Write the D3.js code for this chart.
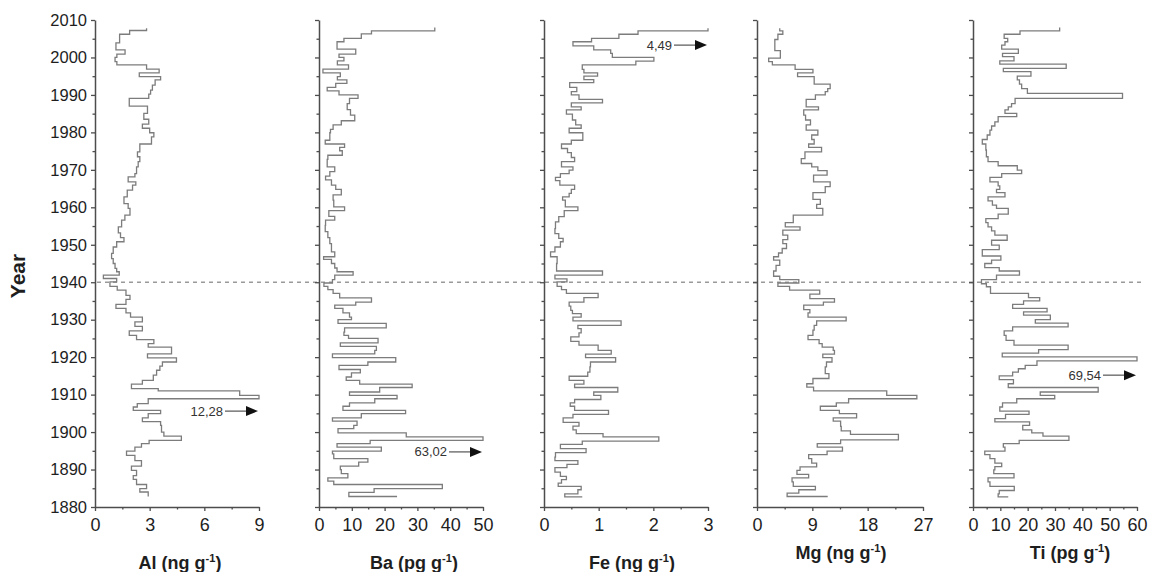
<!DOCTYPE html>
<html>
<head>
<meta charset="utf-8">
<script src="https://cdn.jsdelivr.net/npm/d3@7"></script>
<style>
  body { margin: 0; background: #fff; }
  text { font-family: Arial, 'Liberation Sans', sans-serif; }
</style>
</head>
<body>
<div id="chart"></div>
<script>
// Year ticks shared by all panels
const yearTicks = [1880, 1890, 1900, 1910, 1920, 1930, 1940, 1950, 1960, 1970, 1980, 1990, 2000, 2010];
const yearMinor = [1885, 1895, 1905, 1915, 1925, 1935, 1945, 1955, 1965, 1975, 1985, 1995, 2005];

// Al (ng g-1): step boundaries (top -> bottom) and values
const alYears = [
  2007.8, 2007.2, 2006.2, 2003.9, 2002.0, 2000.9, 2000.0, 1998.9, 1998.0, 1996.9,
  1995.9, 1994.9, 1994.0, 1992.6, 1991.3, 1990.2, 1989.1, 1987.0, 1985.1, 1983.5,
  1982.2, 1981.1, 1979.9, 1978.8, 1976.9, 1974.8, 1973.5, 1972.2, 1970.8, 1969.0,
  1968.1, 1966.8, 1965.9, 1964.6, 1962.8, 1961.0, 1959.7, 1957.9, 1956.6, 1954.8,
  1953.2, 1951.9, 1950.8, 1949.4, 1947.7, 1946.3, 1945.0, 1943.7, 1942.8, 1941.9,
  1941.0, 1940.1, 1938.9, 1937.9, 1936.5, 1935.4, 1934.1, 1933.0, 1931.8, 1930.7,
  1929.4, 1928.2, 1927.0, 1925.8, 1924.7, 1923.6, 1922.7, 1920.9, 1919.8, 1918.7,
  1917.6, 1916.5, 1915.2, 1913.8, 1912.8, 1911.6, 1911.0, 1909.8, 1908.9, 1907.6,
  1906.7, 1905.8, 1904.9, 1903.8, 1902.8, 1901.8, 1900.0, 1898.9, 1897.8, 1896.9,
  1896.0, 1894.9, 1893.8, 1892.4, 1890.9, 1889.8, 1888.4, 1887.4, 1886.0, 1884.9, 1884.0,
  1882.8];
const alValues = [
  2.83, 1.9, 1.35, 1.15, 1.65, 1.2, 1.1, 1.2, 2.83, 3.52,
  2.43, 3.6, 3.3, 3.15, 3.05, 2.95, 1.88, 2.88, 2.68, 2.95,
  2.6, 3.0, 3.23, 3.1, 2.46, 2.33, 2.46, 2.37, 2.28, 2.19,
  1.82, 2.24, 2.06, 1.77, 1.59, 1.82, 1.92, 1.64, 1.46, 1.28,
  1.4, 1.59, 1.19, 1.0, 0.91, 1.0, 1.1, 1.19, 1.33, 0.46,
  1.19, 0.82, 1.22, 1.7, 1.92, 1.7, 1.15, 1.7, 1.95, 2.6,
  2.19, 2.6, 1.88, 2.28, 3.23, 2.92, 4.2, 2.88, 4.47, 3.7,
  3.56, 3.38, 3.2, 2.6, 2.0, 3.47, 7.94, 12.28, 2.92, 2.32,
  2.1, 3.6, 2.92, 2.6, 3.6, 3.65, 3.78, 4.74, 2.97, 2.55,
  2.19, 1.73, 2.19, 2.55, 2.0, 2.28, 2.1, 2.28, 2.83, 2.46, 2.92];

// Ba (pg g-1)
const baYears = [
  2008.0, 2007.1, 2006.3, 2005.1, 2004.2, 2002.2, 2000.9, 2000.0, 1999.1, 1998.0,
  1996.9, 1995.9, 1994.9, 1994.0, 1993.1, 1992.0, 1991.1, 1990.0, 1989.1, 1987.7,
  1986.1, 1984.6, 1983.1, 1982.0, 1980.8, 1979.9, 1977.9, 1976.9, 1976.0, 1975.1,
  1973.9, 1972.8, 1970.8, 1969.5, 1968.3, 1967.3, 1965.9, 1964.8, 1963.3, 1961.9,
  1960.1, 1959.1, 1957.6, 1956.6, 1955.2, 1953.5, 1951.9, 1950.3, 1948.1, 1946.8,
  1946.1, 1945.0, 1943.8, 1942.8, 1941.9, 1940.7, 1939.8, 1938.9, 1938.0, 1937.0,
  1935.8, 1934.7, 1933.9, 1933.0, 1931.8, 1930.7, 1930.0, 1929.0, 1927.8, 1926.7,
  1925.8, 1925.0, 1923.8, 1922.9, 1921.8, 1920.9, 1919.9, 1918.7, 1917.8, 1916.7,
  1915.8, 1914.7, 1913.8, 1912.8, 1911.9, 1910.7, 1909.8, 1908.9, 1907.8, 1906.9,
  1905.8, 1904.9, 1903.8, 1902.9, 1901.8, 1900.9, 1899.8, 1898.7, 1897.8, 1896.9,
  1896.0, 1894.9, 1894.2, 1892.9, 1892.0, 1890.9, 1890.0, 1888.9, 1887.8, 1886.9,
  1886.0, 1884.9, 1883.9, 1882.8,
  1882.8];
const baValues = [
  35.3, 16.0, 12.9, 7.6, 5.5, 11.2, 6.1, 7.6, 5.6, 9.0,
  1.2, 6.5, 5.6, 8.5, 5.1, 2.5, 6.1, 11.9, 9.3, 8.6,
  9.6, 10.9, 6.8, 4.3, 3.5, 3.3, 1.9, 7.8, 6.3, 7.1,
  2.7, 2.5, 4.8, 3.3, 2.0, 3.8, 5.1, 6.8, 4.3, 4.5,
  7.8, 3.0, 4.8, 2.0, 1.9, 2.7, 3.3, 3.8, 4.8, 1.4,
  3.8, 4.8, 5.5, 10.4, 4.8, 4.1, 1.5, 2.7, 4.3, 6.3,
  16.0, 11.2, 4.8, 7.3, 9.3, 9.9, 5.8, 20.5, 7.8, 7.6,
  9.0, 18.0, 6.5, 17.5, 17.0, 4.1, 23.4, 14.9, 6.1, 12.6,
  9.9, 8.3, 12.4, 28.4, 18.5, 9.3, 23.8, 17.0, 9.3, 7.3,
  26.4, 12.9, 4.1, 11.6, 10.6, 5.8, 26.6, 63.02, 15.6, 5.5,
  19.0, 4.1, 4.5, 14.9, 12.1, 6.5, 6.8, 8.8, 2.7, 4.5,
  37.6, 16.8, 9.1, 23.8];

// Fe (ng g-1)
const feYears = [
  2007.8, 2007.1, 2006.2, 2005.1, 2004.2, 2003.1, 2002.0, 2001.1, 2000.0, 1999.0,
  1998.0, 1996.8, 1995.9, 1995.0, 1994.1, 1993.3, 1992.0, 1990.9, 1990.0, 1988.8,
  1987.9, 1986.8, 1986.0, 1984.9, 1983.3, 1982.0, 1981.1, 1979.9, 1977.9, 1976.9,
  1975.7, 1974.6, 1973.3, 1972.2, 1970.8, 1969.9, 1969.0, 1968.0, 1967.1, 1965.9,
  1964.8, 1963.7, 1962.8, 1961.9, 1960.1, 1959.1, 1957.5, 1956.1, 1954.3, 1953.0,
  1951.7, 1950.8, 1949.4, 1948.1, 1946.8, 1945.0, 1943.0, 1941.9, 1940.9, 1940.1,
  1938.9, 1938.0, 1937.0, 1935.9, 1934.7, 1933.6, 1932.5, 1931.6, 1930.7, 1929.7,
  1928.5, 1927.6, 1926.5, 1925.4, 1924.2, 1923.2, 1921.8, 1920.8, 1919.9, 1918.7,
  1917.4, 1916.0, 1914.9, 1913.8, 1912.8, 1911.9, 1910.7, 1909.8, 1908.7, 1907.8,
  1906.9, 1905.8, 1904.7, 1903.8, 1902.6, 1901.6, 1900.6, 1899.6, 1898.7, 1897.6,
  1896.7, 1895.6, 1894.5, 1893.3, 1892.4, 1891.4, 1890.5, 1889.3, 1888.2, 1887.3,
  1886.4, 1885.5, 1884.6, 1883.5, 1882.7,
  1882.7];
const feValues = [
  4.49, 1.72, 1.37, 0.87, 0.53, 0.91, 1.22, 1.25, 2.01, 1.68,
  0.70, 0.73, 0.98, 0.73, 0.91, 0.47, 0.60, 0.50, 0.64, 1.07,
  0.50, 0.68, 0.41, 0.52, 0.58, 0.68, 0.46, 0.71, 0.50, 0.32,
  0.43, 0.50, 0.56, 0.32, 0.53, 0.46, 0.30, 0.21, 0.29, 0.56,
  0.50, 0.46, 0.34, 0.39, 0.62, 0.37, 0.27, 0.21, 0.20, 0.27,
  0.35, 0.30, 0.20, 0.12, 0.24, 0.23, 1.07, 0.20, 0.42, 0.24,
  0.32, 0.41, 0.99, 0.73, 0.46, 0.49, 0.52, 0.68, 0.53, 1.41,
  0.62, 0.68, 0.64, 0.49, 0.64, 0.99, 1.23, 0.76, 1.31, 0.85,
  0.84, 0.80, 0.46, 0.73, 0.56, 1.35, 0.91, 1.04, 0.56, 0.48,
  0.56, 1.18, 0.53, 0.35, 0.64, 0.53, 0.59, 1.08, 2.10, 0.70,
  0.30, 0.77, 0.21, 0.20, 0.62, 0.42, 0.20, 0.30, 0.41, 0.32,
  0.26, 0.68, 0.62, 0.38, 0.70];

// Mg (ng g-1)
const mgYears = [
  2007.8, 2007.1, 2006.2, 2004.8, 2001.8, 1999.8, 1998.9, 1998.0, 1996.8, 1995.9,
  1994.9, 1992.9, 1991.7, 1990.9, 1990.0, 1988.8, 1986.8, 1986.0, 1984.6, 1983.3,
  1982.0, 1980.6, 1979.3, 1978.1, 1976.9, 1976.0, 1974.8, 1973.0, 1971.7, 1970.8,
  1969.8, 1968.6, 1966.8, 1965.5, 1963.9, 1962.1, 1960.8, 1959.7, 1957.9, 1955.9,
  1954.8, 1953.9, 1952.6, 1951.4, 1950.3, 1949.0, 1947.8, 1946.8, 1945.9, 1944.5,
  1943.0, 1941.6, 1940.7, 1939.8, 1938.9, 1937.9, 1936.8, 1935.6, 1934.7, 1933.9,
  1932.7, 1931.8, 1930.7, 1929.7, 1928.5, 1927.2, 1925.8, 1924.7, 1923.6, 1922.7,
  1921.8, 1920.8, 1919.9, 1918.7, 1917.4, 1915.6, 1914.3, 1912.9, 1912.0, 1911.0,
  1909.8, 1908.9, 1907.8, 1906.9, 1905.8, 1904.9, 1903.8, 1902.9, 1901.5, 1900.3,
  1899.4, 1897.9, 1896.9, 1896.0, 1894.9, 1894.0, 1892.9, 1891.7, 1890.7, 1889.8,
  1888.7, 1887.8, 1886.7, 1885.5, 1884.6, 1883.7, 1882.8,
  1882.8];
const mgValues = [
  3.7, 4.2, 3.4, 2.9, 3.8, 1.9, 2.5, 6.2, 9.1, 6.6,
  9.3, 11.9, 11.5, 11.1, 9.5, 8.0, 10.0, 7.6, 7.9, 8.7,
  8.0, 9.9, 8.9, 9.3, 8.4, 10.5, 7.8, 7.2, 8.9, 9.9,
  11.4, 9.2, 11.9, 11.1, 9.1, 10.3, 9.7, 10.7, 5.9, 4.6,
  7.0, 4.2, 5.0, 4.2, 4.8, 4.1, 3.5, 2.7, 3.7, 3.1,
  2.7, 3.7, 6.8, 3.4, 5.3, 10.2, 8.6, 12.6, 10.8, 7.6,
  8.6, 8.3, 14.5, 9.7, 9.3, 9.1, 8.3, 10.1, 10.6, 12.4,
  12.6, 10.7, 12.2, 11.3, 11.1, 11.7, 9.1, 8.1, 9.2, 21.1,
  26.0, 14.9, 12.9, 10.3, 13.4, 16.2, 12.4, 13.6, 13.7, 15.2,
  23.0, 13.6, 9.8, 13.9, 11.4, 8.4, 8.9, 9.7, 7.0, 6.5,
  8.4, 5.7, 5.9, 9.5, 6.8, 4.9, 11.5];

// Ti (pg g-1)
const tiYears = [
  2008.0, 2007.1, 2006.2, 2005.1, 2004.2, 2003.3, 2002.2, 2001.1, 2000.2, 1999.1,
  1998.2, 1997.1, 1996.2, 1995.0, 1994.0, 1992.9, 1991.7, 1990.4, 1989.1, 1987.7,
  1986.8, 1986.0, 1985.1, 1984.2, 1982.8, 1981.7, 1980.6, 1979.3, 1978.1, 1976.9,
  1975.3, 1973.5, 1972.2, 1971.1, 1969.9, 1969.0, 1968.0, 1966.8, 1965.7, 1964.8,
  1963.9, 1962.8, 1961.7, 1960.6, 1959.7, 1958.2, 1957.0, 1955.9, 1954.8, 1953.7,
  1952.6, 1951.2, 1949.9, 1948.7, 1947.0, 1945.9, 1945.0, 1943.9, 1943.0, 1941.9,
  1940.7, 1939.6, 1938.8, 1937.0, 1935.9, 1935.0, 1934.1, 1933.0, 1932.1, 1931.2,
  1930.0, 1929.1, 1928.1, 1927.0, 1925.8, 1924.5, 1923.2, 1922.0, 1921.1, 1920.1,
  1919.0, 1917.8, 1916.9, 1916.0, 1915.0, 1914.0, 1912.9, 1911.9, 1910.7, 1909.8,
  1908.9, 1907.8, 1906.7, 1905.6, 1904.7, 1903.6, 1902.7, 1901.8, 1900.6, 1899.8,
  1898.9, 1897.8, 1896.9, 1896.0, 1894.9, 1894.0, 1892.9, 1891.7, 1890.8, 1889.9,
  1888.9, 1887.8, 1886.7, 1885.5, 1884.4, 1883.5, 1882.7,
  1882.7];
const tiValues = [
  31.7, 17.2, 11.4, 12.7, 11.7, 10.5, 16.6, 10.8, 15.0, 9.8,
  34.1, 11.1, 21.2, 16.2, 17.0, 17.8, 19.9, 54.7, 15.4, 14.1,
  12.9, 11.7, 16.0, 9.2, 8.0, 6.8, 6.2, 5.2, 3.4, 4.7,
  4.9, 5.5, 9.2, 16.2, 17.8, 10.5, 6.2, 9.2, 9.8, 8.6,
  11.7, 5.5, 7.1, 8.6, 12.9, 9.2, 4.7, 5.5, 6.8, 8.0,
  12.5, 6.8, 9.6, 3.4, 10.2, 6.8, 4.3, 9.6, 17.0, 8.6,
  3.1, 4.9, 6.4, 20.3, 24.4, 18.5, 14.5, 27.1, 18.5, 28.3,
  22.8, 34.8, 14.5, 11.4, 12.1, 15.0, 34.8, 24.0, 10.7, 69.54,
  23.4, 19.1, 16.6, 14.5, 9.6, 14.8, 12.9, 45.8, 24.6, 29.9,
  16.0, 10.8, 9.8, 20.5, 11.9, 8.0, 20.7, 18.2, 21.5, 25.6,
  35.1, 16.9, 11.1, 11.7, 4.3, 6.2, 8.0, 10.5, 8.0, 7.6,
  15.0, 5.5, 6.2, 15.1, 9.6, 9.2, 12.9];

// x axis ticks per element
const alTicks = [0, 3, 6, 9];
const baTicks = [0, 10, 20, 30, 40, 50];
const feTicks = [0, 1, 2, 3];
const mgTicks = [0, 9, 18, 27];
const tiTicks = [0, 10, 20, 30, 40, 50, 60];

// off-scale values written next to an arrow
const offscaleLabels = ['12,28', '63,02', '4,49', null, '69,54'];
const offscaleYears = [1905.6, 1894.7, 2003.3, null, 1915.2];

const panels = [
  { el: 'Al', unit: 'ng', years: alYears, values: alValues, ticks: alTicks, minor: 1.5 },
  { el: 'Ba', unit: 'pg', years: baYears, values: baValues, ticks: baTicks, minor: 5 },
  { el: 'Fe', unit: 'ng', years: feYears, values: feValues, ticks: feTicks, minor: 0.5 },
  { el: 'Mg', unit: 'ng', years: mgYears, values: mgValues, ticks: mgTicks, minor: 4.5 },
  { el: 'Ti', unit: 'pg', years: tiYears, values: tiValues, ticks: tiTicks, minor: 5 },
];

// layout
const width = 1149;
const height = 572;
const plotTop = 20;
const plotBottom = 507;
const panelLeft = [95, 319, 544, 757, 973];
const panelWidth = [164, 164, 164, 166, 164];
const titleX = [180, 414, 632, 841, 1070];
const titleY = [569, 569, 569, 559, 559];
const axisColor = '#4d4d4d';
const lineColor = '#7c7c7c';

const svg = d3.select('#chart')
  .append('svg')
  .attr('width', width)
  .attr('height', height);

svg.append('rect')
  .attr('width', width)
  .attr('height', height)
  .attr('fill', '#ffffff');

const y = d3.scaleLinear()
  .domain([1880, 2010])
  .range([plotBottom, plotTop]);

// dashed reference line at 1940
svg.append('line')
  .attr('x1', panelLeft[0] + 2)
  .attr('x2', 1141)
  .attr('y1', y(1940))
  .attr('y2', y(1940))
  .attr('stroke', '#9a9a9a')
  .attr('stroke-width', 1.5)
  .attr('stroke-dasharray', '4,4');

function styleAxis(g, fontSize) {
  g.select('.domain').attr('stroke', axisColor).attr('stroke-width', 1.5);
  g.selectAll('.tick line').attr('stroke', axisColor).attr('stroke-width', 1.3);
  g.selectAll('.tick text')
    .attr('fill', '#1e1e1e')
    .style('font-size', fontSize + 'px')
    .style('font-family', 'Arial, sans-serif');
}

panels.forEach((p, i) => {
  const max = d3.max(p.ticks);
  const x = d3.scaleLinear()
    .domain([0, max])
    .range([panelLeft[i], panelLeft[i] + panelWidth[i]]);

  const g = svg.append('g');

  // step profile, values above the axis range are clipped at the edge
  const n = p.values.length;
  const pts = p.values.map((v, j) => [Math.min(v, max), p.years[j]]);
  pts.push([Math.min(p.values[n - 1], max), p.years[n]]);

  g.append('path')
    .datum(pts)
    .attr('fill', 'none')
    .attr('stroke', lineColor)
    .attr('stroke-width', 1.3)
    .attr('d', d3.line()
      .x((d) => x(d[0]))
      .y((d) => y(d[1]))
      .curve(d3.curveStepBefore));

  // Y axis (labels only on the first panel)
  const yAxis = g.append('g')
    .attr('transform', `translate(${panelLeft[i]},0)`)
    .call(d3.axisLeft(y)
      .tickValues(yearTicks)
      .tickSize(4)
      .tickSizeOuter(0)
      .tickPadding(4)
      .tickFormat(i === 0 ? d3.format('d') : () => ''));
  styleAxis(yAxis, 16.5);

  const yMinor = g.append('g')
    .attr('transform', `translate(${panelLeft[i]},0)`)
    .call(d3.axisLeft(y).tickValues(yearMinor).tickSize(2.5).tickFormat(() => ''));
  yMinor.select('.domain').remove();
  styleAxis(yMinor, 10);

  // X axis
  const xAxis = g.append('g')
    .attr('transform', `translate(0,${plotBottom})`)
    .call(d3.axisBottom(x)
      .tickValues(p.ticks)
      .tickSize(4)
      .tickSizeOuter(0)
      .tickPadding(7)
      .tickFormat(d3.format('d')));
  styleAxis(xAxis, 18);

  const minorTicks = d3.range(0, max + 1e-9, p.minor).filter((v) => !p.ticks.includes(+v.toFixed(4)));
  const xMinor = g.append('g')
    .attr('transform', `translate(0,${plotBottom})`)
    .call(d3.axisBottom(x).tickValues(minorTicks).tickSize(2.5).tickFormat(() => ''));
  xMinor.select('.domain').remove();
  styleAxis(xMinor, 10);

  // axis title with superscript
  const title = svg.append('text')
    .attr('x', titleX[i])
    .attr('y', titleY[i])
    .attr('text-anchor', 'middle')
    .attr('fill', '#1e1e1e')
    .style('font-size', '18px')
    .style('font-weight', 'bold');
  title.append('tspan').text(`${p.el} (${p.unit} g`);
  title.append('tspan').attr('dy', -7).style('font-size', '11px').text('-1');
  title.append('tspan').attr('dy', 7).text(')');

  // arrow and label for the value beyond the scale
  if (offscaleLabels[i]) {
    const tip = x(max) - 1;
    const yy = y(offscaleYears[i]);
    g.append('line')
      .attr('x1', tip - 33)
      .attr('x2', tip - 10)
      .attr('y1', yy)
      .attr('y2', yy)
      .attr('stroke', '#333')
      .attr('stroke-width', 1);
    g.append('path')
      .attr('d', `M${tip},${yy}L${tip - 12},${yy - 5}L${tip - 12},${yy + 5}Z`)
      .attr('fill', '#111');
    g.append('text')
      .attr('x', tip - 35)
      .attr('y', yy)
      .attr('dy', '0.35em')
      .attr('text-anchor', 'end')
      .attr('fill', '#333')
      .style('font-size', '13px')
      .text(offscaleLabels[i]);
  }
});

// Y axis title
svg.append('text')
  .attr('transform', 'translate(25,276) rotate(-90)')
  .attr('text-anchor', 'middle')
  .attr('fill', '#1e1e1e')
  .style('font-size', '21px')
  .style('font-weight', 'bold')
  .text('Year');
</script>
</body>
</html>
